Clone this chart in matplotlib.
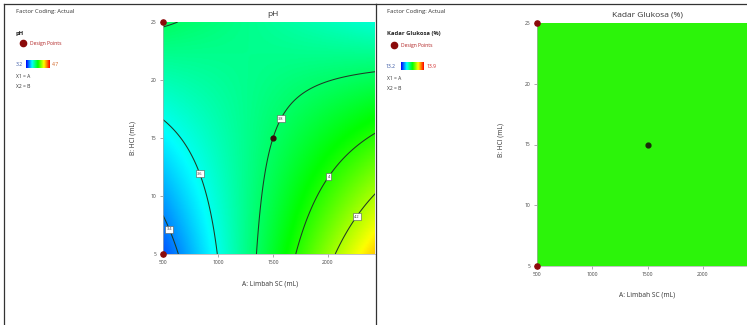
import numpy as np
import matplotlib
matplotlib.use("Agg")
import matplotlib.pyplot as plt
from matplotlib.colors import LinearSegmentedColormap
from matplotlib.lines import Line2D

plt.rcParams['font.family'] = ['Open Sans', 'DejaVu Sans']

# ---------------- data ----------------
# Factor ranges (actual units)
limbah_range = [500, 2500]      # A: Limbah SC (mL)
hcl_range = [5, 25]             # B: HCl (mL)

# pH quadratic model in coded units (a = (A-1500)/1000, b = (B-15)/10), estimated from the plot
ph_coef = {"b0": 3.80, "a": 0.2356, "b": -0.0794, "ab": -0.3244, "a2": -0.0034, "b2": 0.005}
ph_levels = [3.4, 3.6, 3.8, 4.0, 4.2]
ph_color_range = [3.2, 4.7]

# Kadar Glukosa (%) is flat over the region
glukosa_value = 13.55
glukosa_color_range = [13.2, 13.9]

# Design points visible in the plots
design_A = [500, 500]
design_B = [5, 25]
center_A = [1500]
center_B = [15]

x_ticks = [500, 1000, 1500, 2000]
y_ticks = [5, 10, 15, 20, 25]

# ---------------- figure ----------------
W, H = 747, 325
fig = plt.figure(figsize=(W / 100, H / 100), dpi=100)
fig.patch.set_facecolor("white")

def fx(px):
    return px / W

def fy(py):
    return 1 - py / H

cmap = LinearSegmentedColormap.from_list(
    "de", [(0, "#0000ff"), (0.25, "#00ffff"), (0.5, "#00ff00"), (0.75, "#ffff00"), (1, "#ff0000")])

# panel borders
for (x0, y0, x1, y1) in [(4, 4, 375.5, 4), (4, 4, 4, 325), (375.5, 4, 375.5, 325), (375.5, 4, 747, 4)]:
    fig.add_artist(Line2D([fx(x0), fx(x1)], [fy(y0), fy(y1)], color="#333333", lw=0.9))

def style_axes(ax):
    for s in ["top", "right"]:
        ax.spines[s].set_visible(False)
    for s in ["left", "bottom"]:
        ax.spines[s].set_color("#aaaaaa")
        ax.spines[s].set_linewidth(0.5)
    ax.set_xticks(x_ticks)
    ax.set_yticks(y_ticks)
    ax.tick_params(direction="out", length=2.5, width=0.5, color="#888888",
                   labelsize=3.6, labelcolor="#444444", pad=2)

# ---------------- left panel: pH ----------------
ax1 = fig.add_axes([fx(163), fy(254), fx(375) - fx(163), fy(22) - fy(254)])
A = np.linspace(limbah_range[0], limbah_range[1], 300)
B = np.linspace(hcl_range[0], hcl_range[1], 300)
AA, BB = np.meshgrid(A, B)
a = (AA - 1500) / 1000
b = (BB - 15) / 10
Z = (ph_coef["b0"] + ph_coef["a"] * a + ph_coef["b"] * b + ph_coef["ab"] * a * b
     + ph_coef["a2"] * a ** 2 + ph_coef["b2"] * b ** 2)
ax1.pcolormesh(AA, BB, Z, cmap=cmap, vmin=ph_color_range[0], vmax=ph_color_range[1],
               shading="gouraud", rasterized=True)
cs = ax1.contour(AA, BB, Z, levels=ph_levels, colors="#1f3a24", linewidths=0.75)
label_pos = [(580, 7.2), (855, 12), (1590, 16.6), (2018, 11.6), (2264, 8.2)]
lbls = ax1.clabel(cs, fmt="%g", fontsize=2.8, inline=False, manual=label_pos, colors="#333333")
for t in lbls:
    t.set_rotation(0)
    t.set_bbox(dict(boxstyle="square,pad=0.3", fc="white", ec="#555555", lw=0.4))
ax1.set_xlim(500, 2427)
ax1.set_ylim(5, 25)
style_axes(ax1)
ax1.scatter(design_A, design_B, s=14, color="#8b0a0a", zorder=5, clip_on=False)
ax1.scatter(center_A, center_B, s=12, color="#3a0a0a", zorder=5)

fig.text(fx(273), fy(14), "pH", ha="center", va="center", fontsize=6, color="#333333")
fig.text(fx(270), fy(284), "A: Limbah SC (mL)", ha="center", va="center", fontsize=4.8, color="#333333")
fig.text(fx(133), fy(138), "B: HCl (mL)", ha="center", va="center", fontsize=4.8, rotation=90, color="#333333")

# left legend
fig.text(fx(16), fy(11), "Factor Coding: Actual", fontsize=4.2, va="center", color="#333333")
fig.text(fx(16), fy(33), "pH", fontsize=4.2, va="center", weight="bold", color="#222222")
fig.add_artist(Line2D([fx(22.5)], [fy(43)], marker="o", ms=4.5, color="#8b0a0a", ls="none"))
fig.text(fx(30), fy(43), "Design Points", fontsize=3.6, va="center", color="#b02020")
cax1 = fig.add_axes([fx(26), fy(68), fx(50) - fx(26), fy(60) - fy(68)])
cax1.imshow(np.linspace(0, 1, 100)[None, :], aspect="auto", cmap=cmap)
cax1.set_axis_off()
fig.text(fx(16), fy(64), "%g" % ph_color_range[0], fontsize=3.6, va="center", color="#3050a0")
fig.text(fx(52), fy(64), "%g" % ph_color_range[1], fontsize=3.6, va="center", color="#d06020")
fig.text(fx(16), fy(76), "X1 = A", fontsize=3.6, va="center", color="#333333")
fig.text(fx(16), fy(86), "X2 = B", fontsize=3.6, va="center", color="#333333")

# ---------------- right panel: Kadar Glukosa ----------------
ax2 = fig.add_axes([fx(537), fy(266), 1 - fx(537), fy(23) - fy(266)])
Zg = np.full_like(AA, glukosa_value)
ax2.pcolormesh(AA, BB, Zg, shading="auto", rasterized=True,
               cmap=LinearSegmentedColormap.from_list("g", ["#2cf40a", "#2cf40a"]))
ax2.set_xlim(500, 2399)
ax2.set_ylim(5, 25)
style_axes(ax2)
ax2.scatter(design_A, design_B, s=14, color="#8b0a0a", zorder=5, clip_on=False)
ax2.scatter(center_A, center_B, s=12, color="#1a2a0a", zorder=5)

fig.text(fx(647), fy(15), "Kadar Glukosa (%)", ha="center", va="center", fontsize=6, color="#333333")
fig.text(fx(647), fy(295), "A: Limbah SC (mL)", ha="center", va="center", fontsize=4.8, color="#333333")
fig.text(fx(501), fy(140), "B: HCl (mL)", ha="center", va="center", fontsize=4.8, rotation=90, color="#333333")

# right legend
fig.text(fx(387), fy(11), "Factor Coding: Actual", fontsize=4.2, va="center", color="#333333")
fig.text(fx(387), fy(33), "Kadar Glukosa (%)", fontsize=4.2, va="center", weight="bold", color="#222222")
fig.add_artist(Line2D([fx(393.5)], [fy(45)], marker="o", ms=4.5, color="#8b0a0a", ls="none"))
fig.text(fx(401), fy(45), "Design Points", fontsize=3.6, va="center", color="#b02020")
cax2 = fig.add_axes([fx(401), fy(70), fx(424) - fx(401), fy(62) - fy(70)])
cax2.imshow(np.linspace(0, 1, 100)[None, :], aspect="auto", cmap=cmap)
cax2.set_axis_off()
fig.text(fx(386), fy(66), "%g" % glukosa_color_range[0], fontsize=3.6, va="center", color="#3050a0")
fig.text(fx(427), fy(66), "%g" % glukosa_color_range[1], fontsize=3.6, va="center", color="#d02020")
fig.text(fx(387), fy(79), "X1 = A", fontsize=3.6, va="center", color="#333333")
fig.text(fx(387), fy(89), "X2 = B", fontsize=3.6, va="center", color="#333333")

fig.savefig("out.png", dpi=100)
